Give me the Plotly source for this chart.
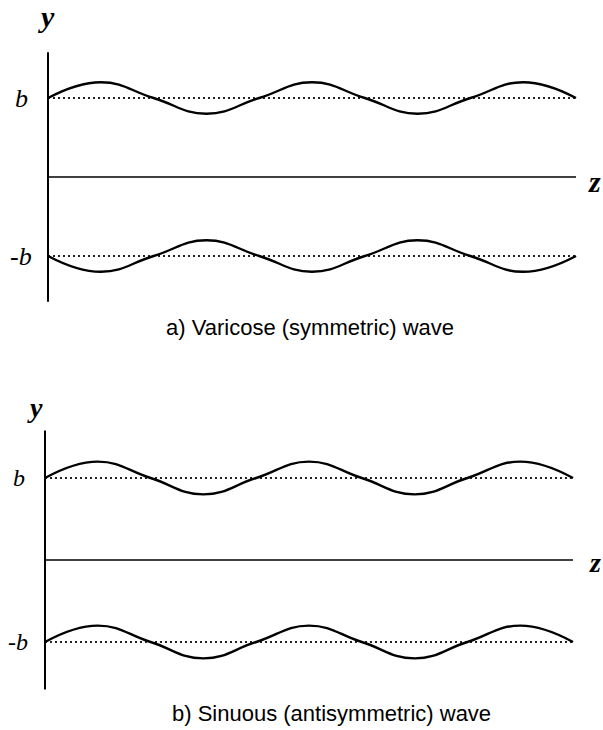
import plotly.graph_objects as go

# Wave geometry (z in wavelengths, y in units of the half-width b)
z_pts = [0, 0.25, 0.5, 0.75, 1.0, 1.25, 1.5, 1.75, 2.0, 2.25, 2.5]
wave_offset = [0, 0.2, 0, -0.2, 0, 0.2, 0, -0.2, 0, 0.2, 0]
b_level = 1.0
z_end = 2.5
axis_extent = 1.58

# Varicose: lower interface mirrors the upper one
varicose_upper = [b_level + d for d in wave_offset]
varicose_lower = [-b_level - d for d in wave_offset]
# Sinuous: both interfaces move in phase
sinuous_upper = [b_level + d for d in wave_offset]
sinuous_lower = [-b_level + d for d in wave_offset]

captions = ["a) Varicose (symmetric) wave", "b) Sinuous (antisymmetric) wave"]

W, H = 603, 730
PX_PER_Z = 211.2
SERIF = "Liberation Serif, Times New Roman, serif"
SANS = "Liberation Sans, Arial, sans-serif"

fig = go.Figure()

panels = [
    # (xaxis id, yaxis id, left px of z=0, px of y=0, px per unit y, upper, lower)
    ("x", "y", 48, 177, 79, varicose_upper, varicose_lower),
    ("x2", "y2", 45, 560, 82, sinuous_upper, sinuous_lower),
]

ZPAD = 0.1
YPAD = 1.72

for xa, ya, x0px, y0px, pyu, upper, lower in panels:
    common = dict(xaxis=xa, yaxis=ya, mode="lines", showlegend=False, hoverinfo="skip")
    # dotted reference levels at +b and -b
    for lvl in (b_level, -b_level):
        fig.add_trace(go.Scatter(x=[0, z_end], y=[lvl, lvl],
                                 line=dict(color="#222", width=2, dash="2px,3px"), **common))
    # y axis and z axis
    fig.add_trace(go.Scatter(x=[0, 0], y=[-axis_extent, axis_extent],
                             line=dict(color="black", width=2), **common))
    fig.add_trace(go.Scatter(x=[0, z_end], y=[0, 0],
                             line=dict(color="black", width=1.6), **common))
    # interfaces
    for ys in (upper, lower):
        fig.add_trace(go.Scatter(x=z_pts, y=ys, line=dict(color="black", width=2.4,
                                 shape="spline", smoothing=1.3), **common))

layout = dict(width=W, height=H, margin=dict(l=0, r=0, t=0, b=0),
              paper_bgcolor="white", plot_bgcolor="white")

for i, (xa, ya, x0px, y0px, pyu, _, _) in enumerate(panels):
    xl = x0px - ZPAD * PX_PER_Z
    xr = x0px + (z_end + ZPAD) * PX_PER_Z
    yt = y0px - YPAD * pyu
    yb = y0px + YPAD * pyu
    xkey = "xaxis" if xa == "x" else "xaxis2"
    ykey = "yaxis" if ya == "y" else "yaxis2"
    layout[xkey] = dict(domain=[xl / W, xr / W], range=[-ZPAD, z_end + ZPAD],
                        visible=False, fixedrange=True)
    layout[ykey] = dict(domain=[1 - yb / H, 1 - yt / H], range=[-YPAD, YPAD],
                        visible=False, fixedrange=True, anchor=xa)
    layout[xkey]["anchor"] = ya

fig.update_layout(**layout)


def px_note(text, xpx, ypx, size, family, bold=False, italic=False, yref="paper", yval=None):
    t = text
    if bold:
        t = "<b>" + t + "</b>"
    if italic:
        t = "<i>" + t + "</i>"
    fig.add_annotation(text=t, x=xpx / W, xref="paper",
                       y=(1 - ypx / H) if yval is None else yval, yref=yref,
                       xanchor="center", yanchor="middle", showarrow=False,
                       font=dict(size=size, family=family, color="black"))


# panel a labels
px_note("y", 46, 16, 30, SERIF, bold=True, italic=True)
px_note("b", 21, 0, 26, SERIF, italic=True, yref="y", yval=b_level)
px_note("-b", 21, 0, 26, SERIF, italic=True, yref="y", yval=-b_level)
px_note("z", 594, 181, 30, SERIF, bold=True, italic=True)
px_note(captions[0], 310, 328, 22, SANS)

# panel b labels
px_note("y", 35, 407, 28, SERIF, bold=True, italic=True)
px_note("b", 19, 0, 24, SERIF, italic=True, yref="y2", yval=b_level)
px_note("-b", 18, 0, 24, SERIF, italic=True, yref="y2", yval=-b_level)
px_note("z", 595, 562, 28, SERIF, bold=True, italic=True)
px_note(captions[1], 331, 713, 22, SANS)

fig.write_html("out.html")
